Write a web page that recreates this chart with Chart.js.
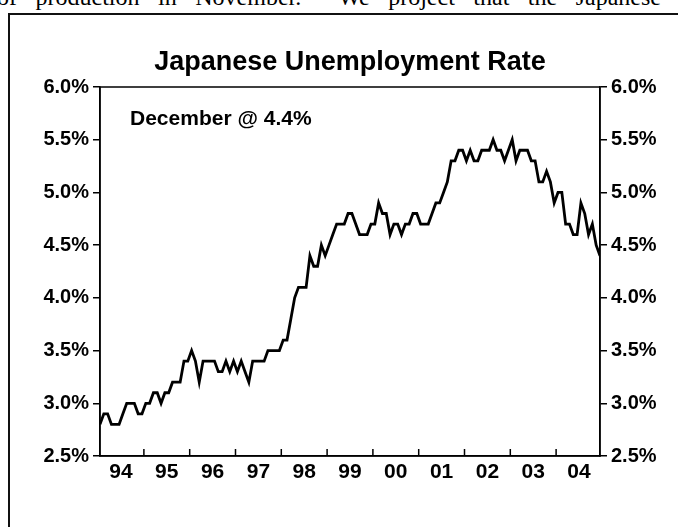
<!DOCTYPE html>
<html>
<head>
<meta charset="utf-8">
<script src="https://cdn.jsdelivr.net/npm/chart.js@4.4.1/dist/chart.umd.min.js"></script>
<style>
  html, body { margin: 0; padding: 0; background: #fff; }
  body { width: 678px; height: 527px; position: relative; overflow: hidden; }
  #prose {
    position: absolute; left: -3px; top: -16px; width: 664px;
    font: 24px "Liberation Serif", "Times New Roman", serif; color: #000;
    text-align: justify; text-align-last: justify; white-space: nowrap;
  }
  #box {
    position: absolute; left: 8px; top: 13px; width: 720px; height: 600px;
    border: 2px solid #111;
  }
  #myChart { position: absolute; left: 0; top: 0; }
</style>
</head>
<body>
<div id="prose">of production in November.&nbsp;&nbsp;We project that the Japanese</div>
<div id="box"></div>
<canvas id="myChart" width="678" height="527"></canvas>
<script>
// monthly unemployment rate, seasonally adjusted, Jan 1994 - Dec 2004
const years = ['94', '95', '96', '97', '98', '99', '00', '01', '02', '03', '04'];
const rate1994 = [2.8, 2.9, 2.9, 2.8, 2.8, 2.8, 2.9, 3.0, 3.0, 3.0, 2.9, 2.9];
const rate1995 = [3.0, 3.0, 3.1, 3.1, 3.0, 3.1, 3.1, 3.2, 3.2, 3.2, 3.4, 3.4];
const rate1996 = [3.5, 3.4, 3.2, 3.4, 3.4, 3.4, 3.4, 3.3, 3.3, 3.4, 3.3, 3.4];
const rate1997 = [3.3, 3.4, 3.3, 3.2, 3.4, 3.4, 3.4, 3.4, 3.5, 3.5, 3.5, 3.5];
const rate1998 = [3.6, 3.6, 3.8, 4.0, 4.1, 4.1, 4.1, 4.4, 4.3, 4.3, 4.5, 4.4];
const rate1999 = [4.5, 4.6, 4.7, 4.7, 4.7, 4.8, 4.8, 4.7, 4.6, 4.6, 4.6, 4.7];
const rate2000 = [4.7, 4.9, 4.8, 4.8, 4.6, 4.7, 4.7, 4.6, 4.7, 4.7, 4.8, 4.8];
const rate2001 = [4.7, 4.7, 4.7, 4.8, 4.9, 4.9, 5.0, 5.1, 5.3, 5.3, 5.4, 5.4];
const rate2002 = [5.3, 5.4, 5.3, 5.3, 5.4, 5.4, 5.4, 5.5, 5.4, 5.4, 5.3, 5.4];
const rate2003 = [5.5, 5.3, 5.4, 5.4, 5.4, 5.3, 5.3, 5.1, 5.1, 5.2, 5.1, 4.9];
const rate2004 = [5.0, 5.0, 4.7, 4.7, 4.6, 4.6, 4.9, 4.8, 4.6, 4.7, 4.5, 4.4];
const yTicks = [2.5, 3.0, 3.5, 4.0, 4.5, 5.0, 5.5, 6.0];

const rates = [].concat(rate1994, rate1995, rate1996, rate1997, rate1998, rate1999,
  rate2000, rate2001, rate2002, rate2003, rate2004);
const points = rates.map((v, i) => ({ x: i, y: v }));
const latest = rates[rates.length - 1];

const FONT = "'Liberation Sans', Arial, Helvetica, sans-serif";
const NARROW = "'Liberation Sans Narrow', 'Arial Narrow', 'Liberation Sans', Arial, sans-serif";

// box around the plot, inward year ticks and the callout
const decorations = {
  id: 'decorations',
  afterDraw(chart) {
    const { ctx, chartArea: a, scales } = chart;
    ctx.save();
    ctx.strokeStyle = '#000';
    ctx.lineWidth = 1.5;
    ctx.strokeRect(a.left, a.top, a.right - a.left, a.bottom - a.top);
    ctx.beginPath();
    for (let k = 1; k < years.length; k++) {
      const px = scales.x.getPixelForValue(12 * k - 0.5);
      ctx.moveTo(px, a.bottom);
      ctx.lineTo(px, a.bottom - 7);
    }
    ctx.stroke();
    ctx.fillStyle = '#000';
    ctx.font = 'bold 21px ' + FONT;
    ctx.textBaseline = 'alphabetic';
    ctx.fillText('December @ ' + latest.toFixed(1) + '%', a.left + 30, a.top + 38);
    ctx.restore();
  }
};

const yAxis = (position) => ({
  type: 'linear',
  position: position,
  min: yTicks[0],
  max: yTicks[yTicks.length - 1],
  afterBuildTicks: (s) => { s.ticks = yTicks.map(v => ({ value: v })); },
  afterFit: (s) => { s.width = 78; },
  grid: { drawOnChartArea: false, color: '#000', lineWidth: 1.5, tickLength: 7 },
  border: { display: true, color: '#000', width: 1.5 },
  ticks: {
    color: '#000',
    padding: 4,
    font: { family: FONT, size: 20, weight: 'bold' },
    callback: (v) => v.toFixed(1) + '%'
  }
});

const config = {
  type: 'line',
  data: {
    datasets: [{
      label: 'Unemployment rate',
      data: points,
      borderColor: '#000',
      borderWidth: 2.8,
      pointRadius: 0,
      tension: 0,
      yAxisID: 'y'
    }]
  },
  options: {
    responsive: false,
    animation: false,
    layout: { padding: { top: 46, left: 22, right: 0, bottom: 0 } },
    plugins: {
      legend: { display: false },
      tooltip: { enabled: false },
      title: {
        display: true,
        text: 'Japanese Unemployment Rate',
        color: '#000',
        font: { family: FONT, size: 27, weight: 'bold', lineHeight: 1.2 },
        padding: { top: 0, bottom: 8.6 }
      }
    },
    scales: {
      x: {
        type: 'linear',
        min: 0,
        max: rates.length - 1,
        afterBuildTicks: (s) => { s.ticks = years.map((y, k) => ({ value: 12 * k + 5.5 })); },
        afterFit: (s) => { s.height = 71; },
        grid: { display: false, drawTicks: false },
        border: { display: true, color: '#000', width: 1.5 },
        ticks: {
          color: '#000',
          padding: 4,
          maxRotation: 0,
          autoSkip: false,
          font: { family: NARROW, size: 21, weight: 'bold' },
          callback: (v) => years[Math.round((v - 5.5) / 12)]
        }
      },
      y: yAxis('left'),
      y2: yAxis('right')
    }
  },
  plugins: [decorations]
};

new Chart(document.getElementById('myChart'), config);
</script>
</body>
</html>
